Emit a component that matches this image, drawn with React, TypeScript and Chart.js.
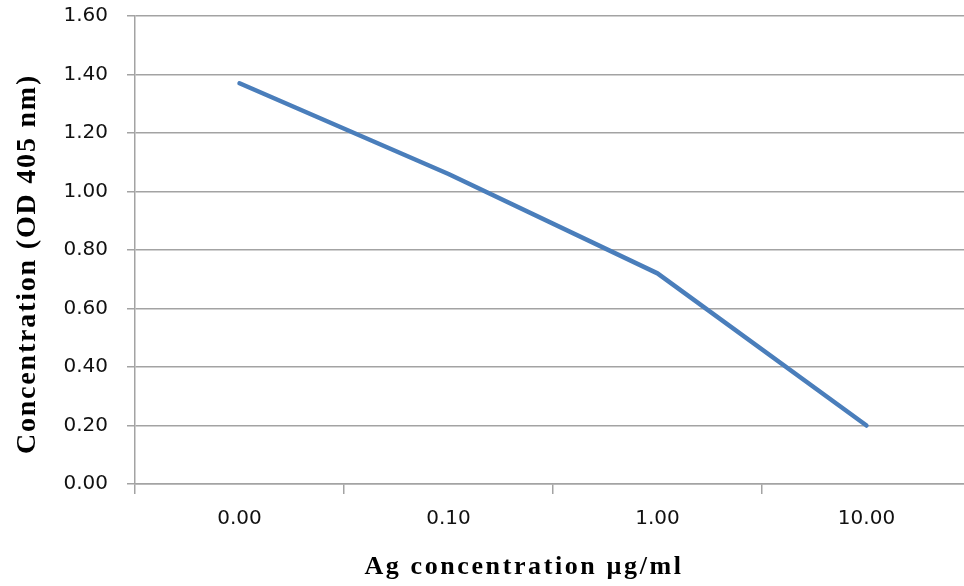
import { useEffect, useRef } from "react";
import { Chart, registerables } from "chart.js";

Chart.register(...registerables);

const categories = ["0.00", "0.10", "1.00", "10.00"];
const odValues = [1.37, 1.06, 0.72, 0.2];
const yTickValues = [0, 0.2, 0.4, 0.6, 0.8, 1.0, 1.2, 1.4, 1.6];
const xTitle = "Ag concentration µg/ml";
const yTitle = "Concentration (OD 405 nm)";

const GRID = "#a3a3a3";
const LINE = "#4a7ebb";

const titlePlugin = {
  id: "spacedTitles",
  afterDraw(chart: any) {
    const ctx = chart.ctx as CanvasRenderingContext2D;
    ctx.save();
    ctx.fillStyle = "#000";
    ctx.textAlign = "center";
    ctx.textBaseline = "alphabetic";
    ctx.font = 'bold 26px "Liberation Serif", "Times New Roman", serif';
    (ctx as any).letterSpacing = "2.6px";
    ctx.fillText(xTitle, 524, 574);
    ctx.font = 'bold 28px "Liberation Serif", "Times New Roman", serif';
    (ctx as any).letterSpacing = "1.8px";
    ctx.translate(34.5, 264);
    ctx.rotate(-Math.PI / 2);
    ctx.fillText(yTitle, 0, 0);
    ctx.restore();
  },
};

export default function App() {
  const canvasRef = useRef<HTMLCanvasElement | null>(null);

  useEffect(() => {
    document.body.style.margin = "0";
    document.body.style.overflow = "hidden";
    const canvas = canvasRef.current;
    if (!canvas) return;
    const chart = new Chart(canvas, {
      type: "line",
      data: {
        labels: categories,
        datasets: [
          {
            data: odValues,
            borderColor: LINE,
            backgroundColor: LINE,
            borderWidth: 4.5,
            pointRadius: 0,
            tension: 0,
            borderCapStyle: "round",
            borderJoinStyle: "round",
          },
        ],
      },
      options: {
        animation: false,
        responsive: false,
        devicePixelRatio: 1,
        layout: { padding: { top: 16, right: 1, left: 0, bottom: 0 } },
        plugins: {
          legend: { display: false },
          tooltip: { enabled: false },
          title: { display: false },
        },
        scales: {
          x: {
            type: "category",
            offset: true,
            grid: {
              offset: true,
              drawOnChartArea: false,
              tickLength: 10,
              color: GRID,
              lineWidth: 1.5,
            },
            border: { display: true, color: GRID, width: 1.5 },
            ticks: {
              color: "#111",
              padding: 13,
              maxRotation: 0,
              font: { family: '"DejaVu Sans", Verdana, sans-serif', size: 20 },
            },
            afterFit: (scale: any) => {
              scale.height = 586 - 484;
              scale.paddingLeft = 0;
              scale.paddingRight = 0;
            },
          },
          y: {
            min: 0,
            max: 1.6,
            afterBuildTicks: (scale: any) => {
              scale.ticks = yTickValues.map((v) => ({ value: v }));
            },
            grid: {
              color: GRID,
              lineWidth: 1.5,
              tickLength: 8,
            },
            border: { display: true, color: GRID, width: 1.5 },
            ticks: {
              color: "#111",
              padding: 19,
              font: { family: '"DejaVu Sans", Verdana, sans-serif', size: 20 },
              callback: (v: any) => Number(v).toFixed(2),
            },
            afterFit: (scale: any) => {
              scale.width = 135;
              scale.paddingTop = 0;
              scale.paddingBottom = 0;
            },
          },
        },
      },
      plugins: [titlePlugin],
    });
    return () => chart.destroy();
  }, []);

  return (
    <div style={{ width: 964, height: 586, overflow: "hidden", background: "#fff" }}>
      <canvas ref={canvasRef} width={972} height={586} style={{ display: "block" }} />
    </div>
  );
}
